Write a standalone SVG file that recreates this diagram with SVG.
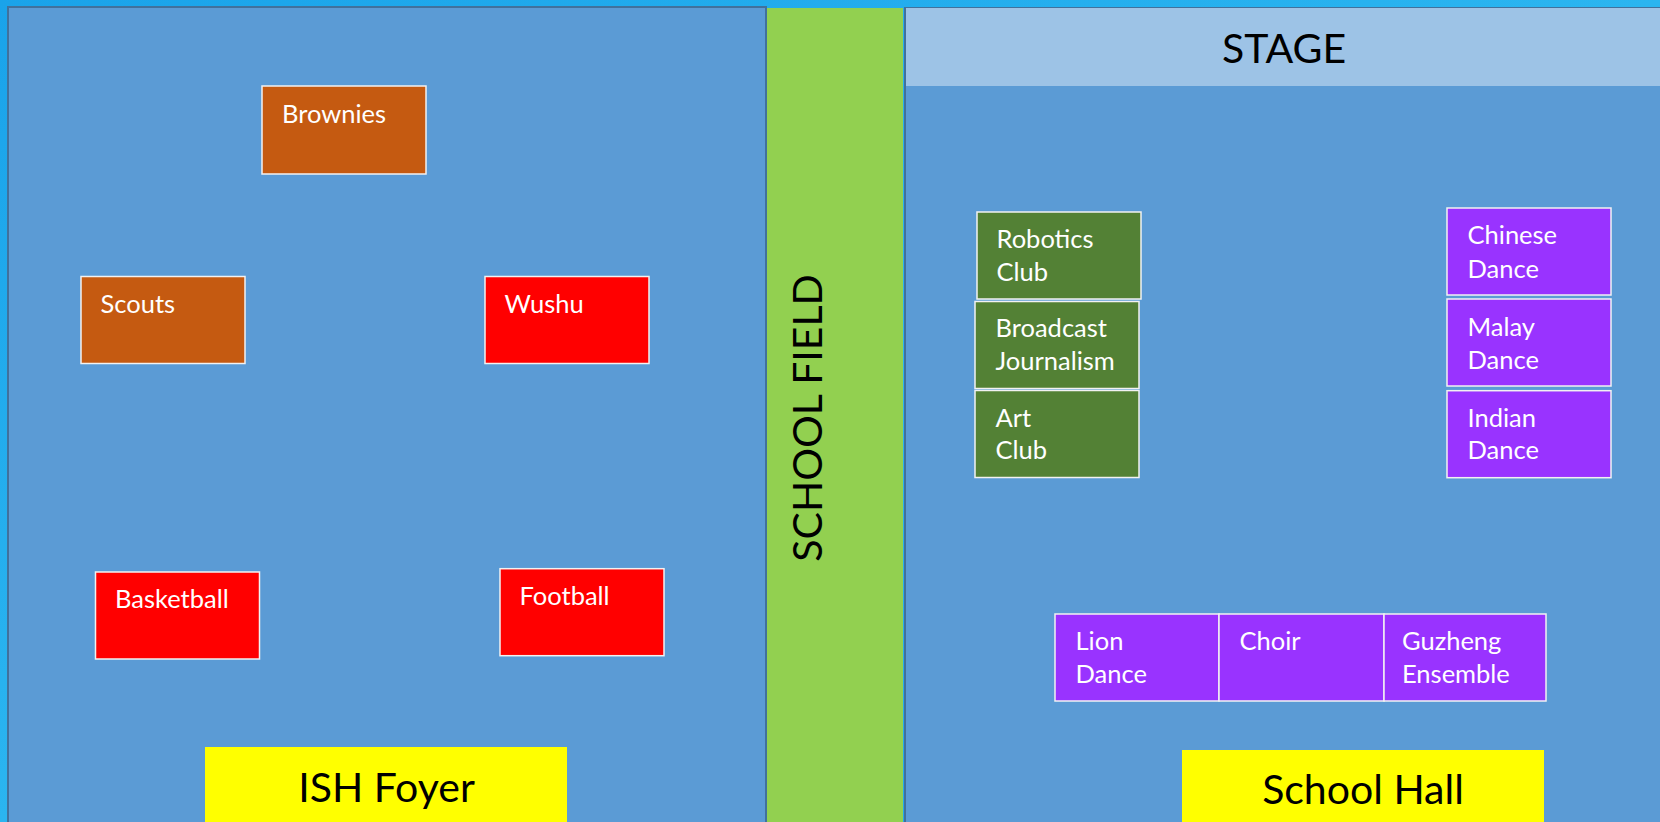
<svg xmlns="http://www.w3.org/2000/svg" width="1660" height="822" viewBox="0 0 1660 822">
<style>
.area{fill:#5b9bd5;stroke:#41719c;stroke-width:2}
.box{stroke:#f2f2f2;stroke-width:1.5}
.brown{fill:#c55a11}
.red{fill:#ff0000}
.green{fill:#538135}
.purple{fill:#9933ff}
.lbl{font-family:Lato,"Open Sans",sans-serif;font-size:25.5px;fill:#ffffff}
.big{font-family:Lato,"Open Sans",sans-serif;font-size:41px;fill:#000000}
</style>
<defs>
<linearGradient id="bg" x1="0" y1="0" x2="1" y2="1">
<stop offset="0" stop-color="#1aa3ea"/>
<stop offset="0.5" stop-color="#2bb5f0"/>
<stop offset="1" stop-color="#1a9ee6"/>
</linearGradient>
</defs>
<rect x="0" y="0" width="1660" height="822" fill="url(#bg)"/>

<g id="ish-foyer-area">
<rect class="area" x="8" y="7" width="758" height="830"/>
</g>
<g id="school-field">
<rect x="767" y="8" width="136" height="830" fill="#92d050"/>
<text class="big" transform="translate(822,418) rotate(-90)" text-anchor="middle">SCHOOL FIELD</text>
</g>
<g id="school-hall-area">
<rect class="area" x="905" y="8" width="770" height="830"/>
</g>
<g id="stage">
<rect x="906" y="8" width="760" height="78" fill="#9dc3e6"/>
<text class="big" x="1284" y="62.7" text-anchor="middle">STAGE</text>
</g>

<g id="brownies"><rect class="box brown" x="262" y="86" width="164" height="88"/><text class="lbl" x="282" y="122.7">Brownies</text></g>
<g id="scouts"><rect class="box brown" x="81" y="276.5" width="164" height="87"/><text class="lbl" x="100.5" y="312.7">Scouts</text></g>
<g id="wushu"><rect class="box red" x="485" y="276.5" width="164" height="87"/><text class="lbl" x="504.5" y="312.7">Wushu</text></g>
<g id="basketball"><rect class="box red" x="95.5" y="572" width="164" height="87"/><text class="lbl" x="115" y="608.3">Basketball</text></g>
<g id="football"><rect class="box red" x="500" y="568.7" width="164" height="87"/><text class="lbl" x="519.5" y="605">Football</text></g>

<g id="robotics-club"><rect class="box green" x="977" y="212" width="164" height="87"/><text class="lbl" x="996.5" y="248.3">Robotics<tspan x="996.5" y="281">Club</tspan></text></g>
<g id="broadcast-journalism"><rect class="box green" x="975" y="301.5" width="164" height="87"/><text class="lbl" x="995.5" y="337.3">Broadcast<tspan x="995.5" y="370">Journalism</tspan></text></g>
<g id="art-club"><rect class="box green" x="975" y="390.5" width="164" height="87"/><text class="lbl" x="995.5" y="426.7">Art<tspan x="995.5" y="459.3">Club</tspan></text></g>

<g id="chinese-dance"><rect class="box purple" x="1447" y="208" width="164" height="87"/><text class="lbl" x="1467.5" y="243.5">Chinese<tspan x="1467.5" y="277.5">Dance</tspan></text></g>
<g id="malay-dance"><rect class="box purple" x="1447" y="299" width="164" height="87"/><text class="lbl" x="1467.5" y="335.5">Malay<tspan x="1467.5" y="368.7">Dance</tspan></text></g>
<g id="indian-dance"><rect class="box purple" x="1447" y="390.7" width="164" height="87"/><text class="lbl" x="1467.5" y="427.3">Indian<tspan x="1467.5" y="459.3">Dance</tspan></text></g>

<g id="lion-dance"><rect class="box purple" x="1055" y="614" width="164" height="87"/><text class="lbl" x="1075.5" y="650">Lion<tspan x="1075.5" y="683.3">Dance</tspan></text></g>
<g id="choir"><rect class="box purple" x="1219" y="614" width="165" height="87"/><text class="lbl" x="1239.5" y="650">Choir</text></g>
<g id="guzheng-ensemble"><rect class="box purple" x="1384" y="614" width="162" height="87"/><text class="lbl" x="1402" y="650">Guzheng<tspan x="1402" y="683.3">Ensemble</tspan></text></g>

<g id="ish-foyer-label"><rect x="205" y="747" width="362" height="80" fill="#ffff00"/><text class="big" x="386.5" y="801.7" text-anchor="middle">ISH Foyer</text></g>
<g id="school-hall-label"><rect x="1182" y="750" width="362" height="80" fill="#ffff00"/><text class="big" x="1363" y="804" text-anchor="middle">School Hall</text></g>
<g id="connectors"/>
</svg>
